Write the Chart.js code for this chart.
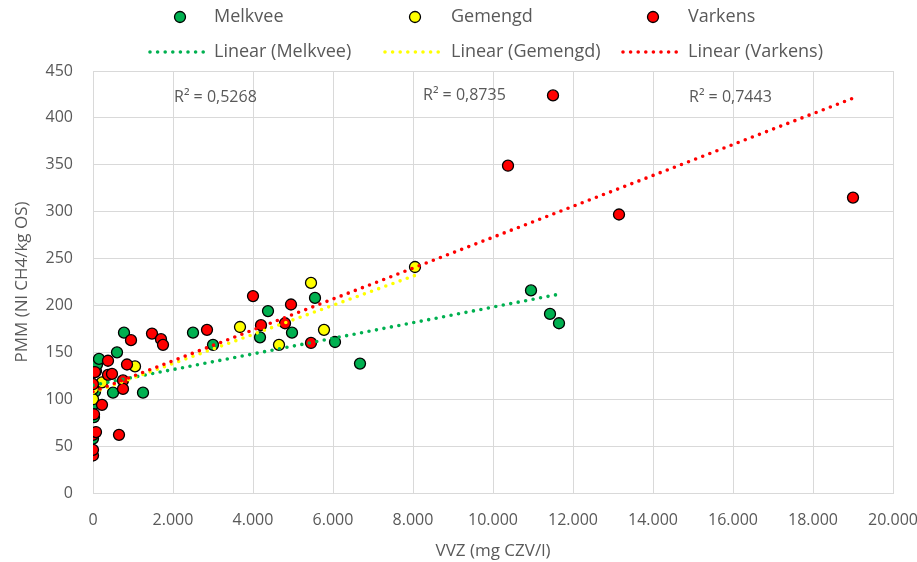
<!DOCTYPE html>
<html>
<head>
<meta charset="utf-8">
<script src="https://cdn.jsdelivr.net/npm/chart.js@4.4.1/dist/chart.umd.min.js"></script>
<style>
  html, body { margin: 0; padding: 0; background: #fff; }
  canvas { display: block; }
</style>
</head>
<body>
<canvas id="myChart" width="917" height="562"></canvas>
<script>
// values: [VVZ, PMM]
const melkvee = [
    [0, 58], [25, 81], [0, 94], [50, 108], [0, 112], [75, 130], [100, 137], [150, 143],
    [600, 150], [775, 171], [500, 107], [1250, 107], [2500, 171], [3000, 158],
    [4175, 166], [4375, 194], [4975, 171], [5550, 208], [6050, 161], [6675, 138],
    [10950, 216], [11425, 191], [11650, 181]
];
const gemengd = [
    [0, 100], [0, 111], [225, 118], [1050, 135], [3675, 177], [4650, 158],
    [5450, 224], [5775, 174], [8050, 241]
];
const varkens = [
    [0, 40], [0, 46], [0, 62], [75, 65], [650, 62], [25, 84], [225, 94], [0, 116],
    [0, 128], [50, 129], [375, 126], [475, 127], [750, 120], [750, 111], [375, 141],
    [850, 137], [950, 163], [1475, 170], [1700, 164], [1750, 158], [2850, 174],
    [4000, 210], [4200, 179], [4800, 181], [4950, 201], [5450, 160],
    [10375, 349], [11500, 424], [13150, 297], [19000, 315]
];

// trend line end points as drawn in the picture
const trendMelkvee = [[0, 115], [11650, 212]];
const trendGemengd = [[0, 107], [8050, 232]];
const trendVarkens = [[0, 108], [19000, 421]];

const seriesNames = ["Melkvee", "Gemengd", "Varkens"];
const rSquared = ["R² = 0,5268", "R² = 0,8735", "R² = 0,7443"];
const rSquaredAt = [[2025, 422], [8250, 424], [14900, 422]];
const xTickLabels = ["0", "2.000", "4.000", "6.000", "8.000", "10.000",
    "12.000", "14.000", "16.000", "18.000", "20.000"];

const colors = ["#00B050", "#FFFF00", "#FF0000"];
const textColor = "#595959";
const font = "'Open Sans', sans-serif";

function pts(arr) {
    return arr.map(p => ({ x: p[0], y: p[1] }));
}

function scatterSet(label, data, color, order) {
    return {
        label: label,
        data: pts(data),
        backgroundColor: color,
        borderColor: "#000",
        borderWidth: 1.3,
        pointRadius: 5.5,
        order: order
    };
}

function trendSet(label, data, color, order) {
    return {
        label: label,
        data: pts(data),
        showLine: true,
        borderColor: color,
        borderWidth: 3.6,
        borderDash: [0, 7.6],
        borderCapStyle: "round",
        pointRadius: 0,
        fill: false,
        order: order
    };
}

// legend in two rows of three, plus the R² texts
const extras = {
    id: "extras",
    afterDraw(chart) {
        const ctx = chart.ctx;
        const xs = chart.scales.x, ys = chart.scales.y;
        ctx.save();
        ctx.fillStyle = textColor;
        ctx.textBaseline = "middle";
        ctx.font = "16px " + font;
        ctx.textAlign = "left";
        rSquared.forEach((t, i) => {
            ctx.fillText(t, xs.getPixelForValue(rSquaredAt[i][0]), ys.getPixelForValue(rSquaredAt[i][1]));
        });

        const lineStart = [150, 385, 623];
        const textX = [214, 451, 688];
        ctx.font = "18px " + font;
        seriesNames.forEach((name, i) => {
            // marker
            ctx.beginPath();
            ctx.arc(lineStart[i] + 30, 17, 5.5, 0, Math.PI * 2);
            ctx.fillStyle = colors[i];
            ctx.fill();
            ctx.lineWidth = 1.3;
            ctx.strokeStyle = "#000";
            ctx.stroke();
            // dotted sample
            ctx.beginPath();
            ctx.setLineDash([0, 7.6]);
            ctx.lineCap = "round";
            ctx.lineWidth = 3.6;
            ctx.strokeStyle = colors[i];
            ctx.moveTo(lineStart[i], 52);
            ctx.lineTo(lineStart[i] + 54, 52);
            ctx.stroke();
            ctx.setLineDash([]);
            ctx.fillStyle = textColor;
            ctx.fillText(name, textX[i], 17);
            ctx.fillText("Linear (" + name + ")", textX[i], 52);
        });
        ctx.restore();
    }
};

new Chart("myChart", {
    type: "scatter",
    data: {
        datasets: [
            scatterSet(seriesNames[0], melkvee, colors[0], 6),
            scatterSet(seriesNames[1], gemengd, colors[1], 5),
            scatterSet(seriesNames[2], varkens, colors[2], 4),
            trendSet("Linear (Melkvee)", trendMelkvee, colors[0], 3),
            trendSet("Linear (Gemengd)", trendGemengd, colors[1], 2),
            trendSet("Linear (Varkens)", trendVarkens, colors[2], 1)
        ]
    },
    options: {
        responsive: false,
        animation: false,
        events: [],
        layout: { padding: { top: 71, right: 24, left: 0, bottom: 0 } },
        plugins: {
            legend: { display: false },
            tooltip: { enabled: false }
        },
        scales: {
            x: {
                type: "linear",
                min: 0,
                max: 20000,
                afterFit(scale) {
                    scale.height = 69;
                    scale.paddingLeft = 0;
                    scale.paddingRight = 0;
                },
                ticks: {
                    stepSize: 2000,
                    color: textColor,
                    font: { family: font, size: 16 },
                    padding: 18,
                    maxRotation: 0,
                    callback: (v, i) => xTickLabels[i]
                },
                grid: { color: "#d9d9d9", drawTicks: false },
                border: { color: "#d9d9d9" },
                title: {
                    display: true,
                    text: "VVZ (mg CZV/l)",
                    color: textColor,
                    font: { family: font, size: 17 },
                    padding: { top: 0, bottom: 1 }
                }
            },
            y: {
                min: 0,
                max: 450,
                afterFit(scale) { scale.width = 93; },
                ticks: {
                    stepSize: 50,
                    color: textColor,
                    font: { family: font, size: 16 },
                    padding: 20
                },
                grid: { color: "#d9d9d9", drawTicks: false },
                border: { color: "#d9d9d9" },
                title: {
                    display: true,
                    text: "PMM (Nl CH4/kg OS)",
                    color: textColor,
                    font: { family: font, size: 17 },
                    padding: { top: 12, bottom: 0 }
                }
            }
        }
    },
    plugins: [extras]
});
</script>
</body>
</html>
